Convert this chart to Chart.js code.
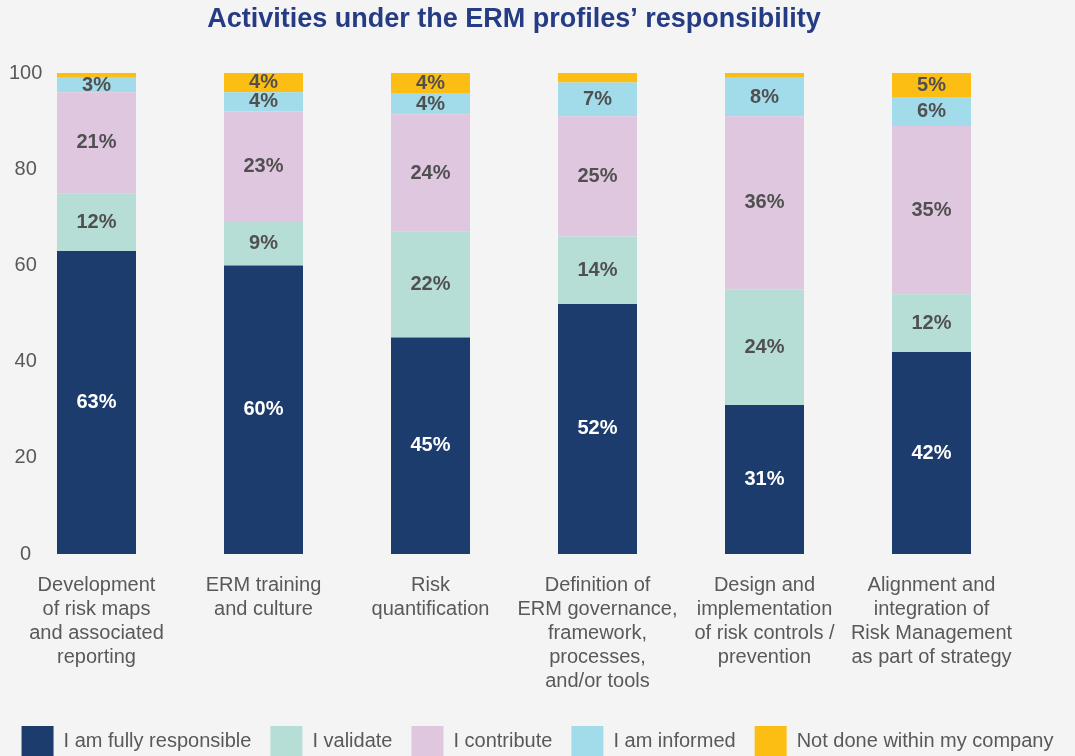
<!DOCTYPE html>
<html>
<head>
<meta charset="utf-8">
<script src="https://cdn.jsdelivr.net/npm/chart.js@4.4.1/dist/chart.umd.min.js"></script>
<style>
    html, body { margin: 0; padding: 0; background: #f4f4f4; overflow: hidden; }
    #wrap { width: 1075px; height: 766px; }
</style>
</head>
<body>
<div id="wrap"><canvas id="ermChart" width="1075" height="766"></canvas></div>
<script>
// categories (multi-line labels)
const categories = [
    ['Development', 'of risk maps', 'and associated', 'reporting'],
    ['ERM training', 'and culture'],
    ['Risk', 'quantification'],
    ['Definition of', 'ERM governance,', 'framework,', 'processes,', 'and/or tools'],
    ['Design and', 'implementation', 'of risk controls /', 'prevention'],
    ['Alignment and', 'integration of', 'Risk Management', 'as part of strategy']
];

// series values (% of respondents)
const fullyResponsible = [63, 60, 45, 52, 31, 42];
const validate = [12, 9, 22, 14, 24, 12];
const contribute = [21, 23, 24.4, 25, 36, 35];
const informed = [3, 4, 4.3, 7, 8, 6];
const notDone = [1, 4, 4.3, 2, 1, 5];

const yTicks = [0, 20, 40, 60, 80, 100];

const seriesNames = ['I am fully responsible', 'I validate', 'I contribute', 'I am informed', 'Not done within my company'];
const seriesColors = ['#1d3c6e', '#b6ddd6', '#dfc7e0', '#a2dbea', '#fdbe13'];

const FONT = '"Liberation Sans", Arial, Helvetica, sans-serif';

// value labels in the middle of each segment
const segmentLabels = {
    id: 'segmentLabels',
    afterDatasetsDraw(chart) {
        const ctx = chart.ctx;
        ctx.save();
        ctx.font = 'bold 20px ' + FONT;
        ctx.textAlign = 'center';
        ctx.textBaseline = 'middle';
        chart.data.datasets.forEach((ds, i) => {
            const meta = chart.getDatasetMeta(i);
            meta.data.forEach((bar, j) => {
                const v = ds.data[j];
                if (v < 3) return;
                ctx.fillStyle = i === 0 ? '#ffffff' : '#505050';
                ctx.fillText(Math.round(v) + '%', bar.x, (bar.y + bar.base) / 2);
            });
        });
        ctx.restore();
    }
};

const allSeries = [fullyResponsible, validate, contribute, informed, notDone];

new Chart(document.getElementById('ermChart'), {
    type: 'bar',
    data: {
        labels: categories,
        datasets: allSeries.map((values, i) => ({
            label: seriesNames[i],
            data: values,
            backgroundColor: seriesColors[i],
            borderWidth: 0,
            categoryPercentage: 1,
            barPercentage: 0.473
        }))
    },
    options: {
        responsive: false,
        animation: false,
        layout: { padding: 0 },
        plugins: {
            title: {
                display: true,
                fullSize: false,
                text: 'Activities under the ERM profiles’ responsibility',
                color: '#253c85',
                font: { family: FONT, size: 27, weight: 'bold' },
                padding: { top: 3, bottom: 37.6 }
            },
            legend: {
                position: 'bottom',
                labels: {
                    boxWidth: 32,
                    boxHeight: 30,
                    padding: 19,
                    color: '#595959',
                    font: { family: FONT, size: 20 }
                }
            },
            tooltip: { enabled: false }
        },
        scales: {
            x: {
                stacked: true,
                grid: { display: false, drawTicks: false },
                border: { display: false },
                ticks: {
                    color: '#595959',
                    font: { family: FONT, size: 20, lineHeight: 1.2 },
                    padding: 19,
                    maxRotation: 0,
                    autoSkip: false
                },
                afterFit: s => { s.height = 153; }
            },
            y: {
                stacked: true,
                min: 0,
                max: 100,
                grid: { display: false, drawTicks: false },
                border: { display: false },
                afterBuildTicks: s => { s.ticks = yTicks.map(v => ({ value: v })); },
                ticks: {
                    color: '#595959',
                    font: { family: FONT, size: 20 },
                    mirror: true,
                    crossAlign: 'center',
                    padding: -4
                },
                afterFit: s => { s.width = 13; }
            },
            yRight: {
                type: 'linear',
                position: 'right',
                display: true,
                grid: { display: false, drawTicks: false },
                border: { display: false },
                ticks: { display: false },
                afterFit: s => { s.width = 60; }
            }
        }
    },
    plugins: [segmentLabels]
});
</script>
</body>
</html>
